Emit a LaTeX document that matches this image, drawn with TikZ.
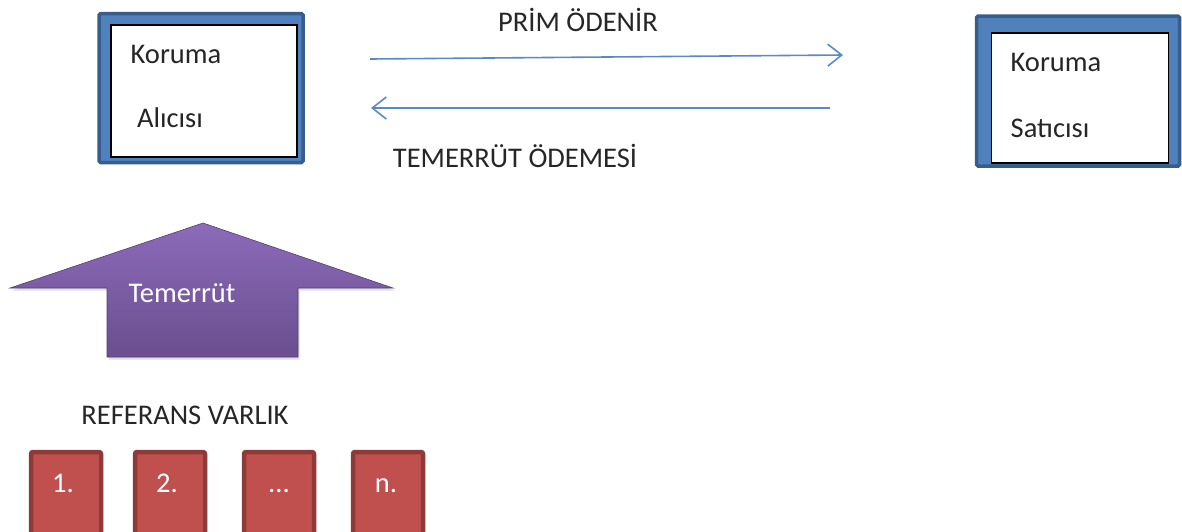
\documentclass[tikz,border=0pt]{standalone}
\usepackage{fontspec}
\setmainfont{Carlito}
\usetikzlibrary{arrows.meta,shadows}
\definecolor{frameblue}{HTML}{4F81BD}
\definecolor{frameedge}{HTML}{385D8A}
\definecolor{flowblue}{HTML}{5A8AC6}
\definecolor{entityred}{HTML}{C0504D}
\definecolor{entityedge}{HTML}{8E3A38}
\definecolor{purpletop}{HTML}{8C6BBA}
\definecolor{purplebottom}{HTML}{6A4E8E}
\definecolor{inktext}{HTML}{262626}
\tikzset{
  txt/.style={font=\fontsize{28.5}{32}\selectfont, text=inktext, inner sep=0pt},
  frame/.style={draw=frameedge, fill=frameblue, line width=3.5pt, rounded corners=1.5pt},
  panel/.style={draw=black, fill=white, line width=1.5pt},
  flow/.style={draw=flowblue, line width=1.6pt, -{Straight Barb[length=14pt,width=22pt,line width=1.6pt]}},
  entity/.style={draw=entityedge, fill=entityred, line width=4.5pt, rounded corners=2pt,
    minimum width=70pt, minimum height=84pt, inner sep=0pt},
  entitytxt/.style={font=\fontsize{28.5}{32}\selectfont, text=white, inner sep=0pt, anchor=base},
}
\begin{document}
\begin{tikzpicture}[x=1pt,y=-1pt]
\useasboundingbox (0,0) rectangle (1182,531);

% protection buyer
\node[frame, minimum width=204pt, minimum height=149pt, inner sep=0pt] (buyerframe) at (201,88) {};
\node[panel, minimum width=186pt, minimum height=132pt, inner sep=0pt] (buyer) at (204,91) {};
\node[txt] (buyer1) at (176,54) {Koruma};
\node[txt] (buyer2) at (170,118) {Alıcısı};

% protection seller
\node[frame, minimum width=203pt, minimum height=150pt, inner sep=0pt] (sellerframe) at (1078,91) {};
\node[panel, minimum width=177pt, minimum height=130pt, inner sep=0pt] (seller) at (1080,98) {};
\node[txt] (seller1) at (1056,62) {Koruma};
\node[txt] (seller2) at (1050,128) {Satıcısı};

% payment flows
\coordinate (premA) at (370,59);
\coordinate (premB) at (843,55);
\coordinate (defA) at (830,108);
\coordinate (defB) at (371,108);
\draw[flow] (premA) -- (premB);
\draw[flow] (defA) -- (defB);
\node[txt] (premlbl) at (578,20) {PRİM ÖDENİR};
\node[txt] (deflbl) at (515,156) {TEMERRÜT ÖDEMESİ};

% default event arrow
\path[top color=purpletop, bottom color=purplebottom, draw=purplebottom!80!black, line width=0.6pt,
      drop shadow={opacity=0.25, shadow xshift=1.5pt, shadow yshift=-2.5pt}]
  (203,223) -- (393,288) -- (298,288) -- (298,357) -- (107,357) -- (107,288) -- (10,288) -- cycle;
\node[entitytxt, anchor=center] (event) at (182,293) {Temerrüt};

% reference entities
\node[txt] (reflbl) at (185,415) {REFERANS VARLIK};
\node[entity] (e1) at (66,494) {};
\node[entity] (e2) at (170,494) {};
\node[entity] (e3) at (279,494) {};
\node[entity] (e4) at (388,494) {};
\node[entitytxt] at (63,492) {1.};
\node[entitytxt] at (167,492) {2.};
\node[entitytxt] at (279,492) {...};
\node[entitytxt] at (386,492) {n.};
\end{tikzpicture}
\end{document}
